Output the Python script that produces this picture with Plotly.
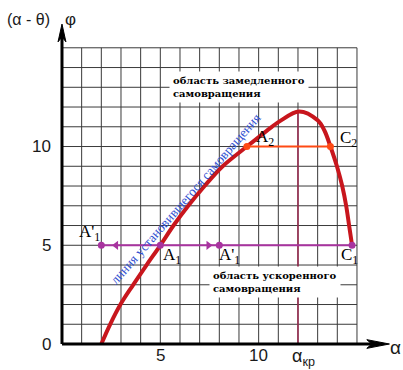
import plotly.graph_objects as go

# ---- data ----
curve_alpha = [2.0, 2.45, 3.0, 3.62, 4.3, 5.0, 5.67, 6.42, 7.25, 8.17, 9.4, 10.67, 11.1, 12.05, 13.0, 13.35, 13.65, 13.98, 14.25, 14.45, 14.6, 14.75]
curve_phi   = [0.0, 1.0, 2.05, 3.0, 4.0, 5.0, 6.0, 7.0, 8.0, 9.0, 10.0, 11.0, 11.3, 11.78, 11.33, 10.8, 10.0, 9.0, 8.0, 7.0, 6.0, 5.0]

orange_alpha = [9.4, 13.65]
orange_phi = [10.0, 10.0]

purple_alpha = [2.0, 5.0, 8.0, 14.75]
purple_phi = [5.0, 5.0, 5.0, 5.0]

arrow_left_alpha = [2.75]
arrow_right_alpha = [7.45]
arrow_phi = [5.0]

alpha_kr = 12.0
phi_max = 11.78

grid_vals = list(range(0, 16))
y_ticks = [0, 5, 10]
y_tick_labels = ["0", "5", "10"]
x_ticks = [5, 10]
x_tick_labels = ["5", "10"]

point_labels = ["A'<sub>1</sub>", "A<sub>1</sub>", "A'<sub>1</sub>", "A<sub>2</sub>", "C<sub>2</sub>", "C<sub>1</sub>"]
label_alpha = [1.42, 5.6, 8.5, 10.3, 14.55, 14.6]
label_phi = [5.6, 4.45, 4.45, 10.45, 10.4, 4.45]

# ---- figure ----
fig = go.Figure()

shapes = []
GRID = "#3a3a3a"
for g in grid_vals:
    shapes.append(dict(type="line", x0=g, x1=g, y0=0, y1=15, line=dict(color=GRID, width=1), layer="below"))
    shapes.append(dict(type="line", x0=0, x1=15, y0=g, y1=g, line=dict(color=GRID, width=1), layer="below"))

# alpha_kr vertical line
shapes.append(dict(type="line", x0=alpha_kr, x1=alpha_kr, y0=0, y1=phi_max, line=dict(color="#9c2a50", width=1.5), layer="below"))

# axes
shapes.append(dict(type="line", x0=0, x1=15.8, y0=0, y1=0, line=dict(color="black", width=3)))
shapes.append(dict(type="line", x0=0, x1=0, y0=0, y1=15.8, line=dict(color="black", width=3)))
shapes.append(dict(type="path", path="M 16.65 0 L 15.5 0.22 L 15.75 0 L 15.5 -0.22 Z", fillcolor="black", line=dict(color="black", width=1)))
shapes.append(dict(type="path", path="M 0 16.2 L -0.2 15.3 L 0 15.55 L 0.2 15.3 Z", fillcolor="black", line=dict(color="black", width=1)))

fig.add_trace(go.Scatter(x=curve_alpha, y=curve_phi, mode="lines",
                         line=dict(color="#c8161d", width=4, shape="spline", smoothing=1.0),
                         hoverinfo="skip"))
fig.add_trace(go.Scatter(x=orange_alpha, y=orange_phi, mode="lines+markers",
                         line=dict(color="#ff4a14", width=2), marker=dict(color="#ff4a14", size=7),
                         hoverinfo="skip"))
fig.add_trace(go.Scatter(x=[purple_alpha[0], purple_alpha[-1]], y=[purple_phi[0], purple_phi[-1]], mode="lines",
                         line=dict(color="#a8339f", width=2), hoverinfo="skip"))
fig.add_trace(go.Scatter(x=purple_alpha, y=purple_phi, mode="markers",
                         marker=dict(color="#a8339f", size=7), hoverinfo="skip"))
fig.add_trace(go.Scatter(x=arrow_left_alpha, y=arrow_phi, mode="markers",
                         marker=dict(color="#a8339f", size=8, symbol="triangle-left"), hoverinfo="skip"))
fig.add_trace(go.Scatter(x=arrow_right_alpha, y=arrow_phi, mode="markers",
                         marker=dict(color="#a8339f", size=8, symbol="triangle-right"), hoverinfo="skip"))

ann = []
TXT = "#1a1a1a"
for v, t in zip(y_ticks, y_tick_labels):
    ann.append(dict(x=-0.45, y=v, text=t, showarrow=False, xanchor="right", yanchor="middle",
                    font=dict(family="Liberation Sans", size=17, color=TXT)))
for v, t in zip(x_ticks, x_tick_labels):
    ann.append(dict(x=v, y=-0.6, text=t, showarrow=False, xanchor="center", yanchor="middle",
                    font=dict(family="Liberation Sans", size=17, color=TXT)))
ann.append(dict(x=alpha_kr + 0.3, y=-0.7, text="α<sub>кр</sub>", showarrow=False, xanchor="center", yanchor="middle",
                font=dict(family="Liberation Sans", size=18, color=TXT)))
ann.append(dict(x=16.95, y=-0.2, text="α", showarrow=False, xanchor="center", yanchor="middle",
                font=dict(family="Liberation Sans", size=19, color=TXT)))
ann.append(dict(x=-1.68, y=16.45, text="(α - θ)", showarrow=False, xanchor="center", yanchor="middle",
                font=dict(family="Liberation Sans", size=16, color=TXT)))
ann.append(dict(x=0.45, y=16.45, text="φ", showarrow=False, xanchor="center", yanchor="middle",
                font=dict(family="Liberation Sans", size=17, color=TXT)))

for t, a, p in zip(point_labels, label_alpha, label_phi):
    ann.append(dict(x=a, y=p, text=t, showarrow=False, xanchor="center", yanchor="middle",
                    font=dict(family="Liberation Serif", size=17, color="black")))

ann.append(dict(x=5.45, y=13.0, text="<b>область замедленного<br>самовращения</b>", showarrow=False,
                xanchor="left", yanchor="middle", align="left", bgcolor="white", borderpad=3,
                font=dict(family="DejaVu Serif", size=10, color="black")))
ann.append(dict(x=7.45, y=3.15, text="<b>область ускоренного<br>самовращения</b>", showarrow=False,
                xanchor="left", yanchor="middle", align="left", bgcolor="white", borderpad=3,
                font=dict(family="DejaVu Serif", size=10, color="black")))
ann.append(dict(x=6.3, y=7.35, text="линия установившегося самовращения", showarrow=False, textangle=-49,
                xanchor="center", yanchor="middle",
                font=dict(family="Liberation Serif", size=13.3, color="#3050d0")))

fig.update_layout(
    width=403, height=370,
    margin=dict(l=0, r=0, t=0, b=0),
    paper_bgcolor="white", plot_bgcolor="white",
    showlegend=False,
    xaxis=dict(range=[-3.152, 17.34], visible=False, fixedrange=True),
    yaxis=dict(range=[-1.316, 17.42], visible=False, fixedrange=True),
    shapes=shapes, annotations=ann,
)

fig.write_html("out.html", config={"displayModeBar": False},
               post_script="document.body.style.margin='0px';document.body.style.padding='0px';")
